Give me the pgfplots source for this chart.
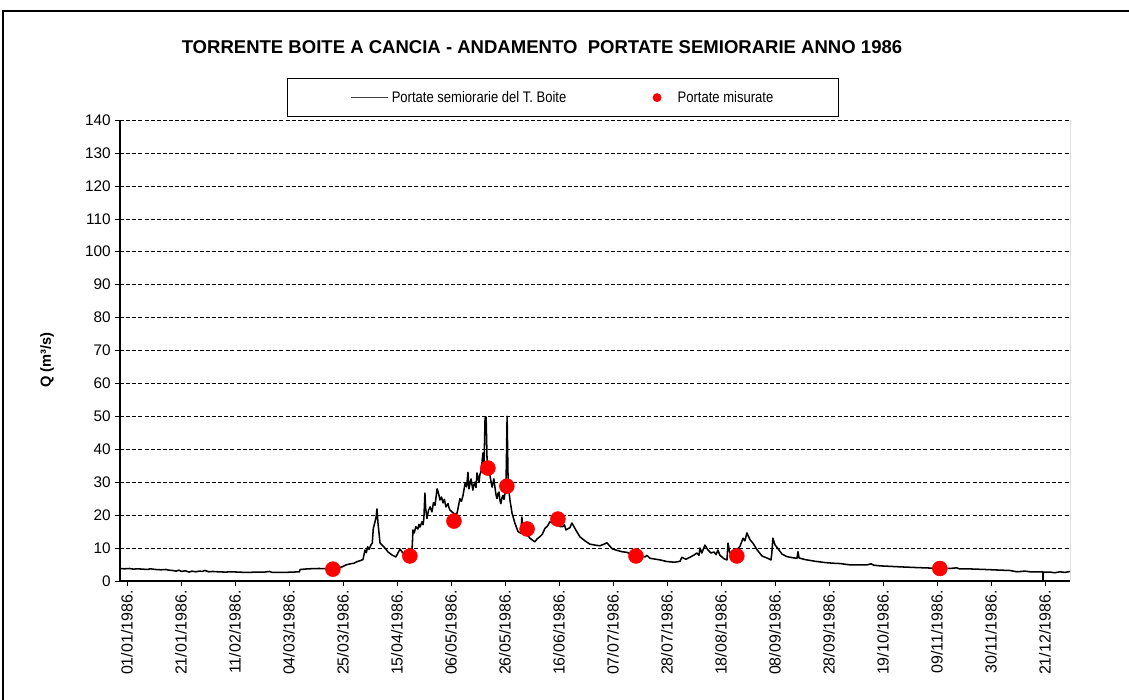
\documentclass[border=0pt]{standalone}
\usepackage{fontspec}
\setmainfont{Liberation Sans}
\newfontfamily\narrowfont[FakeStretch=0.85]{Liberation Sans}
\usepackage{pgfplots}
\pgfplotsset{compat=1.18}
\pgfplotstableread{
d q
-2.7 3.8
-1 3.7
1 3.8
2.5 3.6
4 3.7
6 3.6
8 3.5
9 3.7
11 3.5
13 3.4
15 3.5
16 3.3
17.5 3.2
19 3.0
20 3.3
21 2.9
22.5 3.1
24 2.7
25 3.0
26.5 2.8
28 3.0
29 2.9
30 3.2
31.5 2.8
33 2.9
35 2.8
38 2.7
40 2.8
43 2.7
46 2.6
50 2.7
53 2.7
55 2.9
56 2.6
60 2.6
64 2.7
66.5 2.8
66.8 3.5
70 3.7
74 3.8
78 3.7
81 3.9
83 4.3
84.5 4.9
86 5.2
87.5 5.4
88.5 5.8
90 6.2
91 6.5
91.8 9.4
92.3 8.6
92.8 10.4
93.4 9.6
94.1 11.0
94.6 11.5
95 16
95.6 17.8
96.1 19.5
96.4 21.9
96.8 17.6
97.6 11.5
98.5 10.8
99.5 10
100.7 8.8
102.2 7.9
103.7 7.3
104.5 8.5
105.3 9.7
106.4 8.5
108.4 8.0
109.9 8.6
110.3 15.5
110.8 14.6
111.4 16.5
112.2 15.8
112.6 17.2
113 16.4
113.8 18
114.2 17.1
114.5 19
114.9 26.7
115.2 22
115.7 19
116.3 21.5
116.9 22.5
117.6 21
118.2 23.8
118.8 23
119.6 28
120 27
120.4 25.8
120.7 24.6
121.3 25.5
121.9 23.7
122.4 24.8
123 22.5
123.8 23.5
124.2 22.2
124.6 21.5
125.3 21
126.5 20.3
127.3 20.6
128.4 25
129 24.2
129.6 26
130.4 29.7
131 28.6
131.5 33
131.9 28
132.3 29.5
132.7 31
133.4 27.6
133.8 29.2
134.2 30
134.6 28.4
135 32.8
135.4 31.2
135.8 30
136.1 32.4
136.5 33
137.3 38.9
137.7 35
138.1 49.5
138.5 49.8
138.9 35.8
139.4 33.6
140 32
140.4 30.2
140.8 28.5
141.5 31
141.9 28.5
142.3 26.3
142.7 25
143.1 26.6
143.5 27
143.8 24.6
144.2 23.5
144.6 25.2
145 26
145.4 24.8
145.8 26.7
146.2 30
146.6 50
147 29.7
147.7 24.6
148.5 20.6
149.6 17.6
150.8 15
151.9 14.5
152.3 19.4
152.7 15.5
153.9 14.5
155.4 13
156.4 12.4
157.3 11.9
158.2 12.8
159.3 13.5
160.2 14.2
161.2 16
162.1 16.6
163.1 18
164.3 17.5
165.8 17.6
167 16.5
168.1 16.5
168.7 17.1
169.3 15.5
170.8 16.2
171.6 17.6
173.1 15.5
174.7 13.4
176.6 12.2
178.5 11.2
180.5 10.9
182.4 10.7
184 11.2
185.1 11.6
187.1 9.8
189 9.3
190.9 8.9
192.8 8.7
195.1 7.9
197.8 7.6
199.8 7.3
200.5 7.8
201.7 6.9
205.6 6.4
208.3 5.9
211.3 5.7
213.3 6.0
214 7.2
215.5 6.6
217.1 7.2
218.7 7.9
219.8 8.5
220.6 7.8
221 10
221.7 8.5
222.9 10.9
224 9.5
225.2 8.5
226.4 8.8
227.2 8.0
227.9 9.4
228.7 7.8
230.2 6.8
231.4 6.4
231.8 11.5
232.5 8.5
234.5 9.0
236.4 10.5
237.6 13
238.3 12.2
239.1 14.6
240.3 12.5
241.4 11.5
243 9.5
244.9 7.6
246.8 7.0
248.4 6.4
248.7 8.5
249.1 13
249.9 11
251.1 9.8
252.6 8.2
254.5 7.4
256.5 7.1
258.4 6.9
258.8 8.9
259.2 7.0
261.5 6.5
265.3 6.0
269.2 5.6
272.3 5.4
275 5.3
278.8 4.9
285.4 4.9
287 5.2
288 4.8
290.4 4.6
298.1 4.3
303.9 4.1
310.8 3.9
317.4 3.8
320 4.0
321 3.7
323.9 3.7
330.9 3.5
336.7 3.3
340.5 3.2
343.2 2.8
346.3 3.0
348.2 2.8
352.1 2.8
353.2 2.8
353.3 0
353.4 2.7
356 2.7
357.9 2.5
359.8 2.8
361.7 2.6
363.7 2.9
}\flowdata
\pgfplotstableread{
d q
79.4 3.6
109.1 7.6
126.1 18.2
139.2 34.3
146.5 28.8
154.3 15.8
166.2 18.8
196.3 7.6
235.2 7.6
313.5 3.8
}\measdata
\begin{document}
\begin{tikzpicture}
\begin{axis}[
  at={(0pt,0pt)}, anchor=south west,
  scale only axis, width=712.5pt, height=345.75pt,
  xmin=-2.7, xmax=363.7, ymin=0, ymax=140,
  axis x line*=bottom, axis y line*=left,
  axis line style={-, line width=1.4pt},
  ytick={0,10,...,140},
  xtick={0,20.8235,41.647,62.4706,83.2941,104.1176,124.9412,145.7647,166.5882,187.4118,208.2353,229.0588,249.8824,270.7059,291.5294,312.3529,333.1765,354},
  xticklabels={01/01/1986.,21/01/1986.,11/02/1986.,04/03/1986.,25/03/1986.,15/04/1986.,06/05/1986.,26/05/1986.,16/06/1986.,07/07/1986.,28/07/1986.,18/08/1986.,08/09/1986.,28/09/1986.,19/10/1986.,09/11/1986.,30/11/1986.,21/12/1986.},
  tick align=outside, major tick length=3.5pt,
  tick style={black, thin},
  /pgf/number format/assume math mode=true,
  yticklabel style={font=\fontsize{11.5}{13}\selectfont},
  xticklabel style={rotate=90, anchor=east, font=\fontsize{12}{14}\selectfont},
  ymajorgrids, grid style={black, thin, dash pattern=on 3pt off 1.6pt},
  title={TORRENTE BOITE A CANCIA - ANDAMENTO\ \ PORTATE SEMIORARIE ANNO 1986},
  every axis title/.style={at={(axis description cs:0.4442,1.1584)}, anchor=center, font=\bfseries\fontsize{13.9}{15}\selectfont},
  ylabel={Q (m³/s)},
  every axis y label/.style={at={(axis description cs:0,0.479)}, xshift=-54.75pt, rotate=90, anchor=center, font=\bfseries\fontsize{11}{13}\selectfont},
  legend columns=2,
  legend style={at={(axis description cs:0.1758,1.0911)}, anchor=north west, draw=black, line width=0.6pt,
    inner xsep=47pt, inner ysep=7.5pt, font=\narrowfont\fontsize{11.5}{13}\selectfont,
    /tikz/every even column/.append style={column sep=63pt}},
]
\addplot[black, line width=1.15pt, line join=round, legend image code/.code={\draw[black!75, line width=1.3pt] (0pt,0pt) -- (28pt,0pt);}] table[x=d,y=q] {\flowdata};
\addlegendentry{Portate semiorarie del T. Boite}
\addplot[only marks, mark=*, mark size=5.6pt, color=red, fill=red, legend image post style={mark size=3pt}] table[x=d,y=q] {\measdata};
\addlegendentry{\hspace{10.5pt}Portate misurate}
\draw[black, thin] (rel axis cs:1,0) -- (rel axis cs:1,1);
\end{axis}
\draw[black, line width=0.8pt] (-87.75pt,-95pt) -- (-87.75pt,427.5pt) -- (760pt,427.5pt);
\pgfresetboundingbox
\useasboundingbox (-90pt,-89.25pt) rectangle (756.75pt,435.75pt);
\end{tikzpicture}
\end{document}
